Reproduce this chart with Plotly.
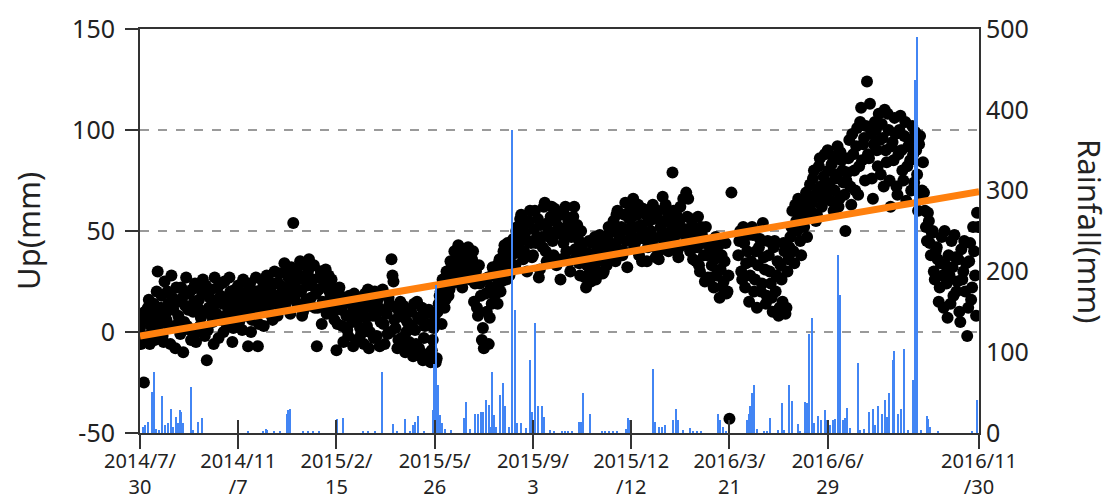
import pandas as pd
import plotly.graph_objects as go

# --- data -------------------------------------------------------------
start_date = "2014-07-30"
end_date = "2016-11-30"

# GNSS vertical displacement (mm), daily readings from start_date:
# even-numbered days and odd-numbered days kept as two lists
up_mm_even = [
    2, -3, -25, 8, 12, -6, 5, 14, 1, 30,
    4, 18, -5, 9, 20, 2, 28, 11, -8, 15,
    6, 22, -10, 13, 3, 19, -4, 10, 24, 0,
    16, 7, 26, -2, -14, 12, 21, 5, 27, 9,
    -3, 18, 14, 25, 4, 11, 20, -5, 16, 8,
    23, 13, 1, 19, 10, -7, 24, 6, 15, 27,
    -7, 12, 21, 3, 17, 27, 9, 19, 14, 24,
    8, 29, 16, 22, 12, 31, 19, 32, 54, 25,
    14, 28, 20, 10, 33, 23, 36, 17, 26, 12,
    -7, 21, 30, 15, 25, 9, 28, 18, 22, 6,
    -9, 20, 13, 3, 17, 8, -2, 14, 5, 19,
    -4, 10, 2, 15, -6, 7, 21, 0, 12, -3,
    8, 16, -7, 19, 4, 11, -1, 14, 36, 25,
    2, -8, 9, -3, 13, -10, 5, -5, 10, -12,
    1, 15, -8, 6, -14, 3, -11, 11, -15, -4,
    8, -13, 14, 20, 26, 12, 30, 18, 35, 24,
    40, 28, 43, 33, 22, 37, 31, 42, 26, 36,
    15, 30, 8, 24, -4, -8, 19, 27, 7, 14,
    30, 22, 14, 36, 25, 40, 32, 44, 28, 38,
    46, 33, 52, 40, 58, 36, 49, 30, 55, 44,
    38, 60, 47, 27, 53, 42, 64, 35, 50, 57,
    45, 61, 33, 52, 26, 48, 58, 40, 55, 30,
    50, 62, 37, 46, 28, 43, 35, 22, 39, 30,
    44, 33, 26, 41, 48, 36, 30, 45, 38, 49,
    42, 55, 35, 60, 46, 52, 40, 64, 32, 56,
    48, 66, 44, 58, 38, 53, 61, 46, 35, 55,
    50, 63, 42, 57, 36, 52, 67, 45, 60, 40,
    54, 79, 47, 58, 37, 62, 43, 51, 69, 66,
    40, 53, 45, 35, 57, 30, 48, 38, 52, 27,
    42, 33, 22, 47, 30, 17, 38, 25, 44, 20,
    -43, 69, None, None, None, 45, 30, 52, 22, 40,
    15, 35, 48, 26, 12, 42, 20, 54, 31, 18,
    38, 24, 10, 45, 28, 8, 33, 15, 40, 12,
    36, 47, 60, 34, 55, 66, 45, 62, 52, 69,
    58, 73, 64, 80, 55, 70, 86, 62, 77, 68,
    90, 72, 83, 60, 76, 92, 66, 85, 74, 50,
    79, 95, 63, 88, 70, 101, 82, 111, 93, 75,
    124, 86, 98, 66, 104, 90, 108, 78, 96, 110,
    84, 100, 62, 94, 106, 72, 88, 107, 80, 97,
    65, 92, 85, 102, 74, 90, 60, 97, 70, 69,
    52, 59, 44, 49, 30, 40, 36, 22, 47, 12,
    33, 7, 28, 45, 18, 37, 25, 10, 41, 30,
    20, -2, 35, 16, 52, 28, 59,
]
up_mm_odd = [
    -6, 6, 10, -2, 16, 3, 9, -4, 20, 7,
    12, -2, 25, 6, 14, -6, 17, 3, 22, 8,
    -1, 17, 5, 27, 11, 1, 21, 15, -5, 12,
    3, 20, 10, 23, 1, 17, 8, -6, 14, 22,
    6, 24, 0, 16, 9, 27, 13, 2, 21, 11,
    5, 18, 26, 8, 14, 22, 0, 17, 11, 20,
    4, 16, 25, 10, 28, 13, 22, 6, 30, 18,
    24, 12, 20, 34, 15, 27, 9, 24, 17, 30,
    21, 35, 8, 26, 16, 30, 13, 23, 33, 19,
    12, 27, 4, 23, 31, 13, 20, 26, 10, 16,
    4, 22, 11, -5, 15, 1, 18, 9, -7, 12,
    6, 17, -1, 11, 19, 3, -8, 14, 8, 20,
    -2, 12, 5, 21, -6, 9, 17, 0, 28, 6,
    12, -4, 15, -7, 7, 0, 11, -9, 3, 14,
    -6, 7, -10, 12, -3, 9, -13, 4, -9, 2,
    -15, 10, 18, 4, 22, 16, 27, 21, 32, 28,
    34, 25, 38, 30, 41, 34, 29, 38, 32, 40,
    24, 12, 33, 18, 2, 26, 10, -6, 22, 32,
    18, 27, 34, 20, 31, 43, 26, 36, 42, 32,
    39, 50, 43, 56, 47, 40, 54, 45, 60, 37,
    51, 44, 56, 31, 47, 62, 40, 54, 47, 62,
    38, 55, 49, 58, 36, 44, 62, 52, 35, 47,
    57, 41, 53, 34, 50, 40, 27, 33, 45, 25,
    38, 47, 30, 35, 43, 29, 40, 33, 52, 44,
    36, 50, 58, 41, 49, 38, 58, 45, 51, 62,
    57, 42, 52, 63, 47, 35, 50, 58, 42, 60,
    46, 56, 37, 60, 47, 41, 55, 63, 49, 58,
    45, 60, 52, 40, 55, 49, 66, 44, 57, 48,
    56, 36, 49, 42, 33, 52, 44, 25, 38, 45,
    27, 40, 36, 28, 43, 31, 22, 35, 19, 28,
    None, None, None, None, 38, 50, 26, 44, 34, 48,
    28, 52, 20, 40, 33, 46, 24, 37, 14, 45,
    30, 17, 42, 20, 35, 12, 26, 44, 9, 30,
    42, 52, 40, 63, 50, 58, 38, 55, 64, 47,
    66, 60, 76, 68, 58, 82, 72, 65, 88, 74,
    80, 65, 87, 70, 78, 62, 89, 80, 68, 75,
    86, 72, 98, 80, 92, 68, 104, 85, 96, 102,
    88, 113, 76, 93, 100, 82, 95, 103, 72, 90,
    108, 75, 92, 85, 98, 68, 100, 90, 75, 104,
    82, 95, 70, 88, 99, 78, 93, 66, 84, 60,
    45, 55, 38, 50, 26, 42, 15, 34, 28, 50,
    24, 38, 14, 32, 48, 20, 36, 5, 26, 45,
    34, 12, 44, 22, 40, 8, 52,
]

# daily rainfall (mm): day offset from start_date and amount
rain_day = [
    3, 5, 8, 12, 14, 17, 20, 23, 26, 29, 32, 34, 37, 39, 41, 42, 44, 52, 54, 59, 63,
    110, 125, 128, 129, 137, 143, 150, 151, 153, 166, 171, 176, 182,
    201, 207, 227, 232, 239, 247, 258, 262, 270, 275, 278, 280, 283, 289,
    298, 300, 301, 302, 304, 306, 308, 311,
    317, 330, 332, 336, 341, 344, 347, 349, 352, 355, 356, 359, 361, 363, 367, 370,
    372, 376, 379, 382, 384, 388, 393, 397, 399, 402, 405, 409, 411, 418, 422,
    430, 433, 436, 440, 447, 449, 451, 458, 470, 474, 478, 482, 486, 495, 497, 499,
    522, 524, 529, 532, 535, 543, 546, 548, 553, 560, 563, 567, 571,
    589, 591, 594, 597, 618, 620, 621, 623, 625, 628, 635, 638, 641, 650, 654, 656,
    661, 664, 670, 672, 677, 679, 681, 684, 686, 690, 693, 697, 700, 703, 706, 708,
    711, 713, 716, 718, 720, 723, 731, 733, 737, 742, 746, 748, 751, 755, 759, 761,
    763, 767, 768, 772, 775, 778, 782, 787, 789, 791, 795, 801, 802, 804, 813, 847, 852,
]
rain_mm = [
    8, 10, 14, 51, 76, 5, 4, 46, 10, 12, 30, 8, 20, 12, 29, 26, 12, 57, 4, 14, 19,
    3, 3, 5, 4, 3, 3, 24, 28, 30, 3, 2, 3, 2,
    17, 19, 3, 3, 3, 76, 11, 3, 17, 3, 10, 14, 21, 3,
    29, 86, 60, 183, 59, 22, 12, 5,
    4, 18, 38, 5, 24, 24, 26, 26, 41, 35, 8, 76, 22, 8, 47, 62,
    33, 8, 375, 152, 12, 12, 6, 90, 26, 136, 33, 33, 20, 4, 3,
    2, 3, 2, 3, 14, 14, 49, 24, 3, 3, 3, 2, 3, 5, 19, 16,
    79, 14, 8, 8, 10, 16, 30, 16, 4, 6, 3, 3, 3,
    24, 16, 7, 3, 16, 24, 33, 49, 59, 5, 3, 3, 19, 4, 37, 4,
    59, 40, 11, 3, 38, 37, 123, 142, 12, 21, 16, 29, 16, 10, 16, 17,
    220, 171, 16, 18, 31, 6, 87, 4, 5, 26, 30, 10, 33, 24, 41, 20,
    49, 90, 101, 24, 30, 104, 4, 66, 437, 490, 4, 21, 17, 8, 3, 2, 41,
]

# linear trend of the displacement series (mm) at the two ends of the period
trend_mm = [-2.0, 69.5]

# axis ticks
up_ticks = [-50, 0, 50, 100, 150]
up_tick_text = ["-50", "0", "50", "100", "150"]
rain_ticks = [0, 100, 200, 300, 400, 500]
tick_dates = ["2014-07-30", "2014-11-07", "2015-02-15", "2015-05-26", "2015-09-03",
              "2015-12-12", "2016-03-21", "2016-06-29", "2016-11-30"]
tick_text = ["2014/7/<br>30", "2014/11<br>/7", "2015/2/<br>15", "2015/5/<br>26",
             "2015/9/<br>3", "2015/12<br>/12", "2016/3/<br>21", "2016/6/<br>29",
             "2016/11<br>/30"]

# --- build figure -----------------------------------------------------
base = pd.Timestamp(start_date)
even_days = list(range(0, 2 * len(up_mm_even), 2))
odd_days = list(range(1, 2 * len(up_mm_odd), 2))
up_dates = base + pd.to_timedelta(even_days + odd_days, unit="D")
up_vals = up_mm_even + up_mm_odd
rain_dates = base + pd.to_timedelta(rain_day, unit="D")

FONT = "Noto Sans"
INK = "#222222"
AXIS = "#333333"

fig = go.Figure()

fig.add_trace(go.Scatter(
    x=up_dates, y=up_vals, mode="markers",
    marker=dict(color="black", size=12, line=dict(width=0)),
    showlegend=False, xaxis="x", yaxis="y",
))
fig.add_trace(go.Scatter(
    x=[start_date, end_date], y=trend_mm, mode="lines",
    line=dict(color="#FF800E", width=7),
    showlegend=False, xaxis="x", yaxis="y",
))
# rainfall on the right-hand axis; its twin date axis draws the inner
# half of the date tick marks
fig.add_trace(go.Bar(
    x=rain_dates, y=rain_mm, xaxis="x2", yaxis="y2",
    marker=dict(color="#4285F4", line=dict(width=0)),
    width=1.5 * 86400000,
    showlegend=False,
))

fig.update_layout(
    width=1113, height=503,
    margin=dict(l=140, r=134, t=29, b=70, pad=0),
    paper_bgcolor="white", plot_bgcolor="white",
    bargap=0,
    font=dict(family=FONT, color=INK),
    xaxis=dict(
        type="date", range=[start_date, end_date], automargin=False,
        tickvals=tick_dates, ticktext=tick_text,
        tickfont=dict(size=20, family=FONT, color=INK),
        ticks="outside", ticklen=14, tickwidth=2, tickcolor=AXIS,
        ticklabelstandoff=-5,
        showgrid=False, zeroline=False,
        showline=True, linecolor=AXIS, linewidth=2, mirror=True,
    ),
    xaxis2=dict(
        type="date", range=[start_date, end_date], overlaying="x",
        automargin=False, tickvals=tick_dates, showticklabels=False,
        ticks="inside", ticklen=13, tickwidth=2, tickcolor=AXIS,
        showgrid=False, zeroline=False, showline=False, anchor="y",
    ),
    yaxis=dict(
        range=[-50, 150], tickvals=up_ticks, ticktext=up_tick_text,
        automargin=False,
        tickfont=dict(size=25, family=FONT, color=INK),
        ticks="outside", ticklen=13, tickwidth=2, tickcolor=AXIS,
        ticklabelstandoff=5,
        showgrid=True, gridcolor="#9a9a9a", griddash="dash", gridwidth=1.5,
        zeroline=False,
        showline=True, linecolor=AXIS, linewidth=2,
    ),
    yaxis2=dict(
        range=[0, 500], tickvals=rain_ticks,
        overlaying="y", side="right", anchor="x2", automargin=False,
        tickfont=dict(size=25, family=FONT, color=INK),
        ticks="", showgrid=False, zeroline=False,
        showline=True, linecolor=AXIS, linewidth=2,
    ),
    annotations=[
        dict(text="Up(mm)", xref="paper", yref="paper", x=0, y=0.5,
             xshift=-112, showarrow=False, textangle=-90,
             font=dict(size=31, family=FONT, color=INK),
             xanchor="center", yanchor="middle"),
        dict(text="Rainfall(mm)", xref="paper", yref="paper", x=1, y=0.5,
             xshift=111, showarrow=False, textangle=90,
             font=dict(size=31, family=FONT, color=INK),
             xanchor="center", yanchor="middle"),
    ],
)

fig.write_html("out.html")
